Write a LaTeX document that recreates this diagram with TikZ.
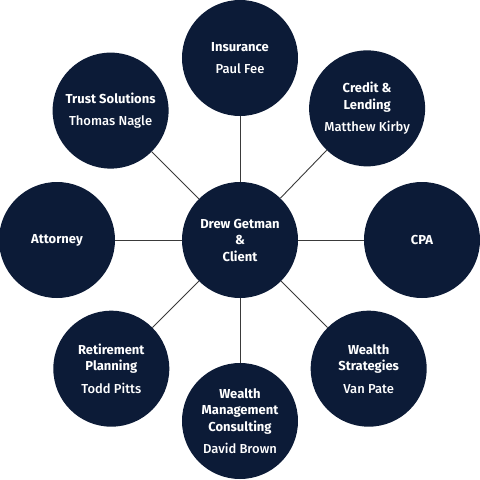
\documentclass[tikz,border=0pt]{standalone}
\usepackage{fontspec}
\setmainfont{Fira Sans}
\newfontfamily\namefont{Fira Sans Medium}
\definecolor{navy}{HTML}{0C1B37}
\definecolor{wire}{HTML}{3A3A3A}

\begin{document}
\begin{tikzpicture}[x=1pt,y=1pt,
  bubble/.style={circle,fill=navy,minimum size=116pt,inner sep=0pt,
    align=center,text=white,font=\fontsize{13}{16.5}\selectfont},
  spoke/.style={draw=wire,line width=0.9pt}]
  \useasboundingbox (-240,-240) rectangle (240,240);
  \node[bubble] (client) at (0,0) {\bfseries Drew Getman\\ \bfseries \&\\ \bfseries Client};
  \node[bubble] (insurance) at (90:182) {\bfseries Insurance\\[6pt] \namefont Paul Fee};
  \node[bubble] (credit) at (46:183) {\bfseries Credit \&\\ \bfseries Lending\\[6pt] \namefont Matthew Kirby};
  \node[bubble] (cpa) at (0:182) {\bfseries CPA};
  \node[bubble] (strategies) at (-45:182) {\bfseries Wealth\\ \bfseries Strategies\\[6pt] \namefont Van Pate};
  \node[bubble] (consulting) at (-90:181) {\bfseries Wealth\\ \bfseries Management\\ \bfseries Consulting\\[6pt] \namefont David Brown};
  \node[bubble] (retirement) at (-135:182) {\bfseries Retirement\\ \bfseries Planning\\[6pt] \namefont Todd Pitts};
  \node[bubble] (attorney) at (180:183) {\bfseries Attorney};
  \node[bubble] (trust) at (135:183) {\bfseries Trust Solutions\\[6pt] \namefont Thomas Nagle};
  % spokes
  \foreach \n in {insurance,credit,cpa,strategies,consulting,retirement,attorney,trust}
    \draw[spoke] (client) -- (\n);
\end{tikzpicture}
\end{document}
